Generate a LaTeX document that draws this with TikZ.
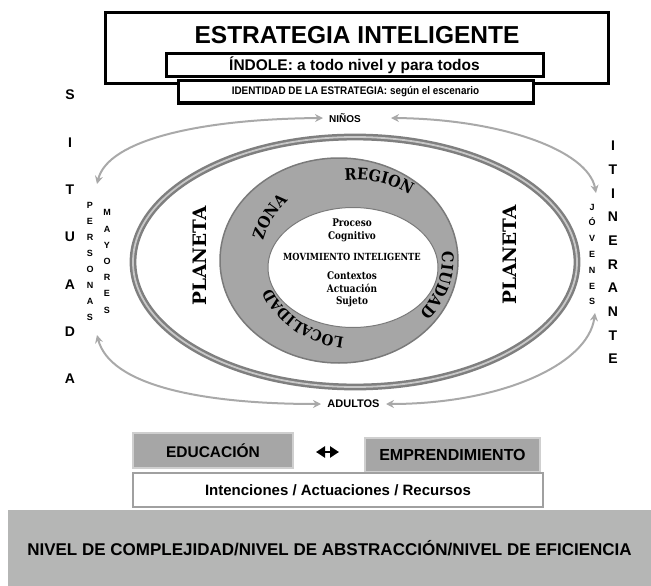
\documentclass[tikz,border=0pt]{standalone}
\usepackage{fontspec}
\setmainfont{Liberation Sans}
\newfontfamily\hvc[FakeStretch=0.9]{Liberation Sans}
\newfontfamily\ringf[FakeStretch=0.9]{DejaVu Serif}
\newfontfamily\innerf[FakeStretch=0.85]{DejaVu Serif}
\newfontfamily\planf{DejaVu Serif}
\usetikzlibrary{arrows.meta,decorations.text}
\definecolor{ringgray}{HTML}{A6A6A6}
\definecolor{ringedge}{HTML}{7A7A7A}
\definecolor{ellout}{HTML}{7F7F7F}
\definecolor{ellmid}{HTML}{C8C8C8}
\definecolor{arcgray}{HTML}{A9A9A9}
\definecolor{boxgray}{HTML}{A6A6A6}
\definecolor{boxedge}{HTML}{CFCFCF}
\definecolor{wboxedge}{HTML}{A0A0A0}
\definecolor{bandgray}{HTML}{B5B6B5}
\newcommand\fsz[2]{\fontsize{#1}{#2}\selectfont}
\begin{document}
\begin{tikzpicture}[x=1pt,y=-1pt,
  bbox/.style={draw=black, line width=3pt, fill=white, inner sep=0pt},
  gbox/.style={draw=boxedge, line width=1.5pt, fill=boxgray, inner sep=0pt, font=\bfseries\fsz{15.5}{15.5}},
  wbox/.style={draw=wboxedge, line width=2pt, fill=white, inner sep=0pt, font=\bfseries\fsz{15}{15}},
  garrow/.style={draw=arcgray, line width=2pt, {Stealth[length=8pt,width=8pt]}-{Stealth[length=8pt,width=8pt]}},
  vstack/.style={align=center, inner sep=0pt},
  ringlabel/.style={decorate, decoration={text along path, text align=center}},
  plan/.style={rotate=90, inner sep=0pt, font=\planf\bfseries\fsz{18.5}{18.5}}
]
\useasboundingbox (0,0) rectangle (651,586);

% ---- top boxes
\node[bbox, minimum width=503pt, minimum height=71pt] (big) at (356.5,48.5) {};
\node[font=\bfseries\fsz{24.5}{24.5}] (title) at (357,35) {ESTRATEGIA INTELIGENTE};
\node[bbox, minimum width=377pt, minimum height=23pt, font=\bfseries\fsz{15.5}{15.5}] (indole) at (354.5,65.5) {ÍNDOLE: a todo nivel y para todos};
\node[bbox, minimum width=355pt, minimum height=22pt, font=\hvc\bfseries\fsz{11}{11}] (ident) at (355.5,92) {IDENTIDAD DE LA ESTRATEGIA: según el escenario};

% ---- ellipses
\draw[draw=ellout, double=ellmid, line width=2.5pt, double distance=1.8pt] (355,262) ellipse [x radius=222, y radius=125];
\draw[fill=ringgray, draw=ringedge, line width=1.5pt] (339,260.5) ellipse [x radius=119, y radius=102.5];
\draw[fill=white, draw=ringedge, line width=1pt] (353,267.5) ellipse [x radius=85, y radius=60];

% ---- ring labels
\begin{scope}[shift={(356,259)}]
\path[ringlabel, decoration={text={|\ringf\bfseries\fsz{16}{16}|REGION}}] (250:91 and 79) arc[start angle=250, end angle=320, x radius=91, y radius=79];
\path[ringlabel, decoration={text={|\ringf\bfseries\fsz{16}{16}|ZONA}}] (180:95 and 83) arc[start angle=180, end angle=236, x radius=95, y radius=83];
\path[ringlabel, decoration={text={|\ringf\bfseries\fsz{16}{16}|CIUDAD}}] (-18:86 and 79) arc[start angle=-18, end angle=55, x radius=86, y radius=79];
\path[ringlabel, decoration={text={|\ringf\bfseries\fsz{15}{15}|LOCALIDAD}}] (84:91 and 79) arc[start angle=84, end angle=174, x radius=91, y radius=79];
\end{scope}

% ---- planeta
\node[plan] (plL) at (200,256) {PLANETA};
\node[plan] (plR) at (510,255) {PLANETA};

% ---- centre texts
\node[font=\innerf\bfseries\fsz{10.5}{13}, align=center, inner sep=0pt] (proc) at (352,230.5) {Proceso\\Cognitivo};
\node[font=\innerf\bfseries\fsz{9.8}{12}, inner sep=0pt] (mov) at (352,257) {MOVIMIENTO INTELIGENTE};
\node[font=\innerf\bfseries\fsz{10.5}{12.5}, align=center, inner sep=0pt] (ctx) at (352,289.5) {Contextos\\Actuación\\Sujeto};

% ---- vertical words
\node[vstack, font=\bfseries\fsz{14}{47.3}] (sit) at (70,237) {S\\I\\T\\U\\A\\D\\A};
\node[vstack, font=\bfseries\fsz{9}{16}] (per) at (90,261) {P\\E\\R\\S\\O\\N\\A\\S};
\node[vstack, font=\bfseries\fsz{9}{16.2}] (may) at (107,261.5) {M\\A\\Y\\O\\R\\E\\S};
\node[vstack, font=\bfseries\fsz{9}{15.8}] (jov) at (592,254.5) {J\\Ó\\V\\E\\N\\E\\S};
\node[vstack, font=\bfseries\fsz{14}{23.7}] (iti) at (613,252.5) {I\\T\\I\\N\\E\\R\\A\\N\\T\\E};

% ---- niños / adultos and arcs
\node[font=\bfseries\fsz{10}{10}] (nin) at (345,118) {NIÑOS};
\node[font=\bfseries\fsz{11}{11}] (adu) at (353.5,404) {ADULTOS};
\coordinate (nL) at (323,118);
\coordinate (nR) at (391,118);
\coordinate (pT) at (97,184);
\coordinate (pB) at (97,335);
\coordinate (jT) at (596,193);
\coordinate (jB) at (595,313);
\coordinate (aL) at (321,404);
\coordinate (aR) at (386,404);
\draw[garrow] (pT) .. controls (108,140) and (200,119) .. (nL);
\draw[garrow] (nR) .. controls (500,119) and (588,150) .. (jT);
\draw[garrow] (pB) .. controls (110,385) and (200,404) .. (aL);
\draw[garrow] (aR) .. controls (500,404) and (588,365) .. (jB);

% ---- bottom boxes
\node[gbox, minimum width=160pt, minimum height=35pt] (edu) at (213,450.5) {EDUCACIÓN};
\node[gbox, minimum width=175pt, minimum height=34pt, font=\bfseries\fsz{16}{16}] (emp) at (452.5,455) {EMPRENDIMIENTO};
\coordinate (dl) at (316,452);
\coordinate (dr) at (339,452);
\draw[line width=2.5pt, {Triangle[length=9pt,width=11pt]}-{Triangle[length=9pt,width=11pt]}] (dl) -- (dr);
\node[wbox, minimum width=410pt, minimum height=34pt] (int) at (338,490) {Intenciones / Actuaciones / Recursos};
\node[fill=bandgray, minimum width=643pt, minimum height=76pt, inner sep=0pt, font=\bfseries\fsz{17}{17}] (band) at (329.5,548) {NIVEL DE COMPLEJIDAD/NIVEL DE ABSTRACCIÓN/NIVEL DE EFICIENCIA};
\end{tikzpicture}
\end{document}
